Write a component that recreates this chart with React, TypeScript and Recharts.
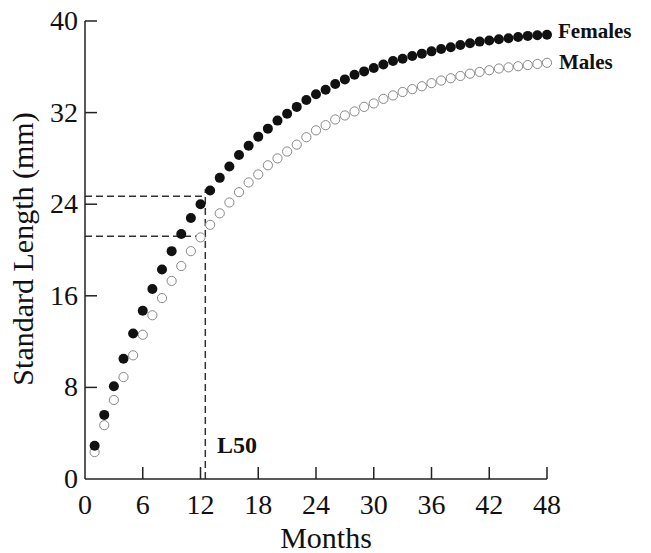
import React from 'react'
import { ReferenceLine, Scatter, ScatterChart, XAxis, YAxis } from 'recharts'

// ─── Data ──────────────────────────────────────────────────────────────────────
const months = [
  1, 2, 3, 4, 5, 6, 7, 8, 9, 10, 11, 12, 13, 14, 15, 16, 17, 18, 19, 20, 21, 22, 23, 24,
  25, 26, 27, 28, 29, 30, 31, 32, 33, 34, 35, 36, 37, 38, 39, 40, 41, 42, 43, 44, 45, 46, 47, 48,
]
const females = [
  2.9, 5.6, 8.1, 10.5, 12.7, 14.7, 16.6, 18.3, 19.9, 21.4,
  22.8, 24.0, 25.2, 26.3, 27.3, 28.3, 29.1, 29.9, 30.6, 31.3,
  31.9, 32.5, 33.1, 33.6, 34.0, 34.5, 34.9, 35.3, 35.6, 35.9,
  36.2, 36.5, 36.7, 36.95, 37.15, 37.35, 37.55, 37.7, 37.9, 38.05,
  38.2, 38.3, 38.4, 38.5, 38.6, 38.7, 38.75, 38.8,
]
const males = [
  2.35, 4.7, 6.9, 8.9, 10.8, 12.6, 14.3, 15.8, 17.3, 18.6,
  19.9, 21.1, 22.2, 23.2, 24.15, 25.05, 25.9, 26.6, 27.4, 28.0,
  28.6, 29.2, 29.85, 30.45, 30.9, 31.4, 31.75, 32.1, 32.5, 32.8,
  33.2, 33.5, 33.8, 34.05, 34.3, 34.57, 34.8, 35.0, 35.2, 35.4,
  35.55, 35.7, 35.85, 35.95, 36.05, 36.15, 36.25, 36.35,
]
const xTicks = [0, 6, 12, 18, 24, 30, 36, 42, 48]
const yTicks = [0, 8, 16, 24, 32, 40]

// L50 guide lines (month, lengths)
const l50Month = 12.5
const l50Female = 24.7
const l50Male = 21.2
const l50Top = 25.3

const femaleData = months.map((m, i) => ({ x: m, y: females[i] }))
const maleData = months.map((m, i) => ({ x: m, y: males[i] }))

const SERIF = '"Liberation Serif", "Times New Roman", serif'
const AXIS = '#222'
const DASH = '#333'

// ─── Ticks (drawn inward, like the original figure) ───────────────────────────
const XTick = ({ x, y, payload }: any) => (
  <g>
    {payload.value !== 0 && (
      <line x1={x} x2={x} y1={y} y2={y - 12} stroke={AXIS} strokeWidth={1.5} />
    )}
    <text x={x} y={y + 35} textAnchor="middle" fontSize={28} fontFamily={SERIF} fill="#111">
      {payload.value}
    </text>
  </g>
)

const YTick = ({ x, y, payload }: any) => (
  <g>
    {payload.value !== 0 && (
      <line x1={x} x2={x + 12} y1={y} y2={y} stroke={AXIS} strokeWidth={1.5} />
    )}
    <text x={x - 7} y={y + 9} textAnchor="end" fontSize={28} fontFamily={SERIF} fill="#111">
      {payload.value}
    </text>
  </g>
)

const FilledDot = (p: any) => <circle cx={p.cx} cy={p.cy} r={5} fill="#111" />
const OpenDot = (p: any) => (
  <circle cx={p.cx} cy={p.cy} r={4.6} fill="#fff" stroke="#888" strokeWidth={1} />
)

export default function App() {
  return (
    <div style={{ position: 'absolute', left: 0, top: 0, width: 651, height: 553, background: '#fff' }}>
      <ScatterChart width={651} height={553} margin={{ top: 21, right: 104, bottom: 0, left: 0 }}>
        <XAxis
          type="number"
          dataKey="x"
          domain={[0, 48]}
          ticks={xTicks}
          height={74}
          tickSize={0}
          tickMargin={0}
          tick={<XTick />}
          axisLine={{ stroke: AXIS, strokeWidth: 1.5 }}
          tickLine={false}
        />
        <YAxis
          type="number"
          dataKey="y"
          domain={[0, 40]}
          ticks={yTicks}
          width={85}
          tickSize={0}
          tickMargin={0}
          tick={<YTick />}
          axisLine={{ stroke: AXIS, strokeWidth: 1.5 }}
          tickLine={false}
        />
        <ReferenceLine
          segment={[{ x: 0, y: l50Female }, { x: l50Month, y: l50Female }]}
          stroke={DASH}
          strokeWidth={1.5}
          strokeDasharray="7 4"
        />
        <ReferenceLine
          segment={[{ x: 0, y: l50Male }, { x: l50Month, y: l50Male }]}
          stroke={DASH}
          strokeWidth={1.5}
          strokeDasharray="7 4"
        />
        <ReferenceLine
          segment={[{ x: l50Month, y: 0 }, { x: l50Month, y: l50Top }]}
          stroke={DASH}
          strokeWidth={1.5}
          strokeDasharray="7 4"
        />
        <Scatter name="Males" data={maleData} shape={<OpenDot />} isAnimationActive={false} />
        <Scatter name="Females" data={femaleData} shape={<FilledDot />} isAnimationActive={false} />
        <text x={558} y={38} fontSize={21} fontWeight={700} fontFamily={SERIF} fill="#111">
          Females
        </text>
        <text x={559} y={69} fontSize={21} fontWeight={700} fontFamily={SERIF} fill="#111">
          Males
        </text>
        <text x={217} y={453} fontSize={24} fontWeight={700} fontFamily={SERIF} fill="#111">
          L50
        </text>
        <text x={326} y={548} textAnchor="middle" fontSize={30} fontFamily={SERIF} fill="#111">
          Months
        </text>
        <text
          x={33}
          y={249}
          textAnchor="middle"
          transform="rotate(-90 33 249)"
          fontSize={30}
          fontFamily={SERIF}
          fill="#111"
        >
          Standard Length (mm)
        </text>
      </ScatterChart>
    </div>
  )
}
